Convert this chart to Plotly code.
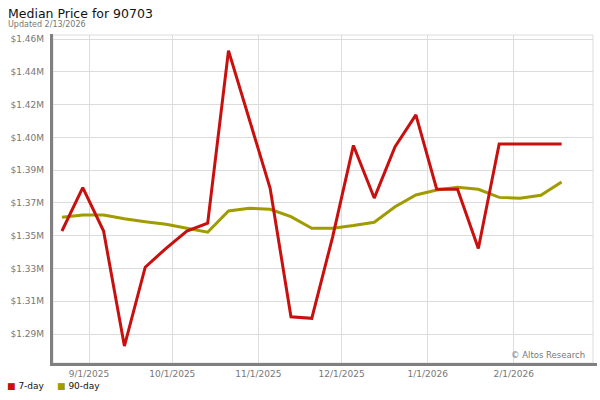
import plotly.graph_objects as go

# ---- data ----
dates = [
    "2025-08-22 06:00", "2025-08-29 18:00", "2025-09-06 06:00", "2025-09-13 18:00",
    "2025-09-21 06:00", "2025-09-28 18:00", "2025-10-06 06:00", "2025-10-13 18:00",
    "2025-10-21 06:00", "2025-10-28 18:00", "2025-11-05 06:00", "2025-11-12 18:00",
    "2025-11-20 06:00", "2025-11-27 18:00", "2025-12-05 06:00", "2025-12-12 18:00",
    "2025-12-20 06:00", "2025-12-27 18:00", "2026-01-04 06:00", "2026-01-11 18:00",
    "2026-01-19 06:00", "2026-01-26 18:00", "2026-02-03 06:00", "2026-02-10 18:00",
    "2026-02-18 06:00",
]
price_7day = [1349700, 1374800, 1349700, 1283000, 1328700, 1339700, 1349700, 1354200,
              1454300, 1414100, 1374500, 1300000, 1299100, 1346200, 1399300, 1368800,
              1398600, 1417000, 1373900, 1373900, 1339600, 1400100, 1400100, 1400100,
              1400100]
price_90day = [1357700, 1359000, 1359000, 1356800, 1355100, 1353600, 1351300, 1349000,
               1361300, 1362900, 1362300, 1358000, 1351300, 1351300, 1352900, 1354800,
               1363800, 1370600, 1373500, 1375000, 1373900, 1369200, 1368700, 1370400,
               1378100]

y_tickvals = [1290000, 1309000, 1328000, 1347000, 1366000, 1385000, 1404000, 1423000, 1442000, 1461000]
y_ticktext = ["$1.29M", "$1.31M", "$1.33M", "$1.35M", "$1.37M", "$1.39M", "$1.40M", "$1.42M", "$1.44M", "$1.46M"]
x_tickvals = ["2025-09-01", "2025-10-01", "2025-11-01", "2025-12-01", "2026-01-01", "2026-02-01"]
x_ticktext = ["9/1/2025", "10/1/2025", "11/1/2025", "12/1/2025", "1/1/2026", "2/1/2026"]

RED = "#c8100f"
OLIVE = "#a09c00"
FONT = "DejaVu Sans"

fig = go.Figure()
fig.add_trace(go.Scatter(x=dates, y=price_90day, mode="lines", name="90-day",
                         line=dict(color=OLIVE, width=3), showlegend=False))
fig.add_trace(go.Scatter(x=dates, y=price_7day, mode="lines", name="7-day",
                         line=dict(color=RED, width=3), showlegend=False))

L, R, T, B = 53, 7, 35, 37
W, H = 600, 400
pw, ph = W - L - R, H - T - B

def px_x(p):
    return (p - L) / pw

def px_y(p):
    return (H - B - p) / ph

fig.update_layout(
    width=W, height=H,
    margin=dict(l=L, r=R, t=T, b=B, pad=0),
    paper_bgcolor="white", plot_bgcolor="white",
    font=dict(family=FONT, size=9, color="#777777"),
    xaxis=dict(
        type="date",
        range=["2025-08-19 00:45", "2026-03-01 13:12"],
        tickmode="array", tickvals=x_tickvals, ticktext=x_ticktext,
        showgrid=True, gridcolor="#dcdcdc", gridwidth=1,
        zeroline=False, showline=False, ticks="",
        ticklabelstandoff=4,
        tickfont=dict(family=FONT, size=9, color="#777777"),
    ),
    yaxis=dict(
        range=[1273190, 1463330],
        tickmode="array", tickvals=y_tickvals, ticktext=y_ticktext,
        showgrid=True, gridcolor="#dcdcdc", gridwidth=1,
        zeroline=False, showline=False, ticks="",
        ticklabelstandoff=8,
        tickfont=dict(family=FONT, size=9, color="#777777"),
    ),
    showlegend=False,
    shapes=[
        dict(type="rect", xref="paper", yref="paper", x0=0, x1=1, y0=0, y1=1,
             line=dict(color="#dcdcdc", width=1), layer="below"),
        dict(type="line", xref="paper", yref="paper",
             x0=px_x(51.5), x1=px_x(51.5), y0=px_y(366), y1=px_y(34),
             line=dict(color="#808080", width=3)),
        dict(type="line", xref="paper", yref="paper",
             x0=px_x(50), x1=px_x(597), y0=px_y(364.5), y1=px_y(364.5),
             line=dict(color="#808080", width=3)),
    ],
    annotations=[
        dict(text="Median Price for 90703", xref="paper", yref="paper",
             x=px_x(6), y=px_y(13.5), xanchor="left", yanchor="middle",
             showarrow=False, font=dict(family=FONT, size=12.5, color="#111111")),
        dict(text="Updated 2/13/2026", xref="paper", yref="paper",
             x=px_x(6), y=px_y(25), xanchor="left", yanchor="middle",
             showarrow=False, font=dict(family=FONT, size=8, color="#777777")),
        dict(text="\u00a9 Altos Research", xref="paper", yref="paper",
             x=px_x(587), y=px_y(355), xanchor="right", yanchor="middle",
             showarrow=False, font=dict(family=FONT, size=8.5, color="#777777")),
        dict(text=f"<span style='color:{RED}'>\u25a0</span>&nbsp;7-day", xref="paper", yref="paper",
             x=px_x(5), y=px_y(386), xanchor="left", yanchor="middle",
             showarrow=False, font=dict(family=FONT, size=9, color="#111111")),
        dict(text=f"<span style='color:{OLIVE}'>\u25a0</span>&nbsp;90-day", xref="paper", yref="paper",
             x=px_x(55), y=px_y(386), xanchor="left", yanchor="middle",
             showarrow=False, font=dict(family=FONT, size=9, color="#111111")),
    ],
)

fig.write_html("out.html",
               config={"displayModeBar": False, "staticPlot": True},
               post_script="document.body.style.margin='0';document.body.style.overflow='hidden';")
